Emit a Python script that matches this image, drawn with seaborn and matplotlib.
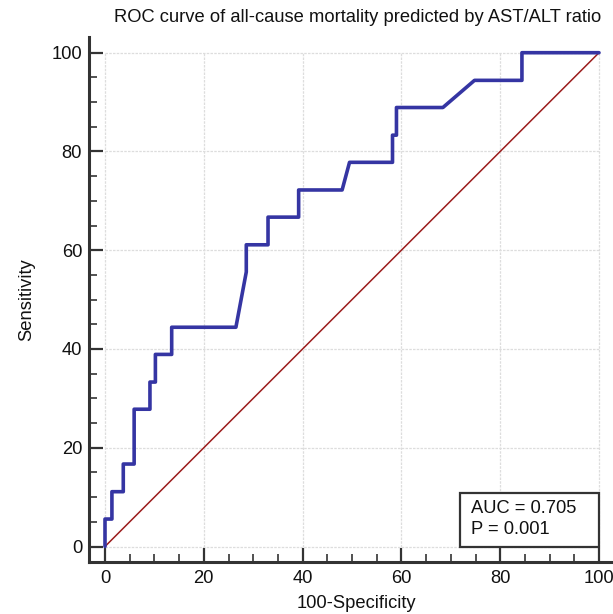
import matplotlib
matplotlib.use("Agg")
import matplotlib.pyplot as plt
import seaborn as sns
import pandas as pd
from matplotlib.patches import Rectangle
from matplotlib.ticker import MultipleLocator

# ROC curve vertices (100-Specificity, Sensitivity)
fpr = [0, 0, 1.4, 1.4, 3.7, 3.7, 5.9, 5.9, 9.1, 9.1, 10.2, 10.2, 13.5, 13.5,
       26.5, 28.6, 28.6, 33.0, 33.0, 39.2, 39.2, 48.0, 49.5, 58.2, 58.2, 59.0,
       59.0, 68.4, 74.8, 84.4, 84.4, 100]
tpr = [0, 5.56, 5.56, 11.1, 11.1, 16.7, 16.7, 27.8, 27.8, 33.3, 33.3, 38.9, 38.9, 44.4,
       44.4, 55.6, 61.1, 61.1, 66.7, 66.7, 72.2, 72.2, 77.8, 77.8, 83.3, 83.3,
       88.9, 88.9, 94.4, 94.4, 100, 100]
ref_x = [0, 100]
ref_y = [0, 100]
ticks = [0, 20, 40, 60, 80, 100]
title = "ROC curve of all-cause mortality predicted by AST/ALT ratio"
xlabel = "100-Specificity"
ylabel = "Sensitivity"
auc_text = "AUC = 0.705\nP = 0.001"

sns.set_style("white")
plt.rcParams['font.family'] = ['Liberation Sans', 'DejaVu Sans']

FS = 13.2
W, H = 613, 614
fig = plt.figure(figsize=(W / 100, H / 100), dpi=100)
# axes in pixel coordinates
left_px, right_px, top_px, bot_px = 89, 624, 37, 561.7
ax = fig.add_axes([left_px / W, 1 - bot_px / H, (right_px - left_px) / W, (bot_px - top_px) / H])

x0_px, xscale = 105, 4.94
y0_px, yscale = 546.5, 4.938
ax.set_xlim((left_px - x0_px) / xscale, (right_px - x0_px) / xscale)
ax.set_ylim((y0_px - bot_px) / yscale, (y0_px - top_px) / yscale)

# grid only inside 0..100
for t in ticks:
    ax.plot([t, t], [0, 100], color="#dddddd", lw=0.9, ls=(0, (2, 1)), zorder=0)
    ax.plot([0, 100], [t, t], color="#dddddd", lw=0.9, ls=(0, (2, 1)), zorder=0)

ref_df = pd.DataFrame({"x": ref_x, "y": ref_y})
sns.lineplot(data=ref_df, x="x", y="y", ax=ax, color="#9b1c1c", lw=1.1,
             estimator=None, sort=False, zorder=2)
roc_df = pd.DataFrame({"fpr": fpr, "tpr": tpr})
sns.lineplot(data=roc_df, x="fpr", y="tpr", ax=ax, color="#3535a3", lw=2.6,
             estimator=None, sort=False, zorder=3)

# AUC box
ax.add_patch(Rectangle((71.9, 0), 100 - 71.9, 10.9, fill=True, fc="white",
                       ec="#333333", lw=1.6, zorder=4))
ax.text(74.0, 5.6, auc_text, ha="left", va="center", fontsize=FS,
        linespacing=1.3, color="#111111", zorder=5)

ax.set_xticks(ticks)
ax.set_yticks(ticks)
ax.xaxis.set_minor_locator(MultipleLocator(5))
ax.yaxis.set_minor_locator(MultipleLocator(5))
ax.tick_params(axis="both", which="major", direction="in", length=10, width=1.6,
               color="#333333", labelsize=FS, labelcolor="#111111")
ax.tick_params(axis="both", which="minor", direction="in", length=5.5, width=1.2,
               color="#333333")
ax.tick_params(axis="x", which="both", bottom=True, pad=6)
ax.tick_params(axis="y", which="both", left=True, pad=5)

for s in ["top", "right"]:
    ax.spines[s].set_visible(False)
for s in ["left", "bottom"]:
    ax.spines[s].set_color("#333333")
    ax.spines[s].set_linewidth(2.2)

ax.set_xlabel(xlabel, fontsize=FS, color="#111111", labelpad=6)
ax.set_ylabel(ylabel, fontsize=FS, color="#111111", labelpad=12)
fig.text(358 / W, 1 - 17 / H, title, ha="center", va="center", fontsize=FS, color="#111111")

fig.savefig("out.png", dpi=100)
